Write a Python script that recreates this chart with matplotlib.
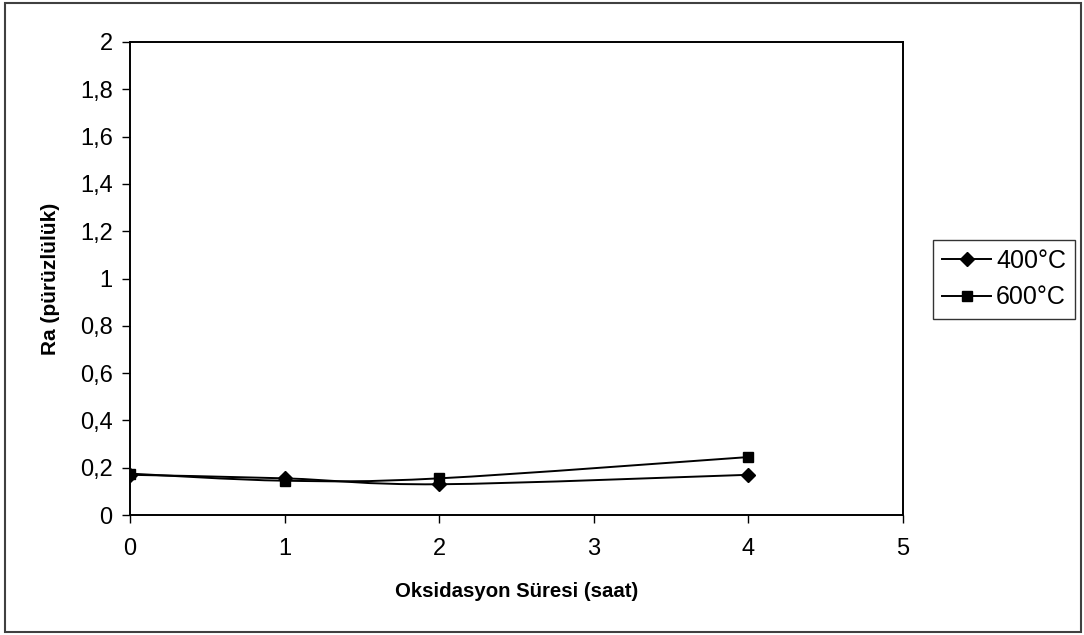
import matplotlib
matplotlib.use("Agg")
import matplotlib.pyplot as plt
from matplotlib.path import Path
from matplotlib.patches import PathPatch, Rectangle
from matplotlib.lines import Line2D
from matplotlib.ticker import FuncFormatter

plt.rcParams['font.family'] = ['Liberation Sans', 'DejaVu Sans']

hours = [0, 1, 2, 4]
ra_400 = [0.17, 0.155, 0.13, 0.17]
ra_600 = [0.175, 0.145, 0.155, 0.245]
series_labels = ['400°C', '600°C']
x_ticks = [0, 1, 2, 3, 4, 5]
y_ticks = [0, 0.2, 0.4, 0.6, 0.8, 1, 1.2, 1.4, 1.6, 1.8, 2]


def smooth_path(xs, ys):
    """Bezier path through the points, spreadsheet-style smoothed line."""
    pts = list(zip(xs, ys))
    n = len(pts)
    verts = [pts[0]]
    codes = [Path.MOVETO]
    for i in range(n - 1):
        p0 = pts[i - 1] if i > 0 else pts[i]
        p1 = pts[i]
        p2 = pts[i + 1]
        p3 = pts[i + 2] if i + 2 < n else pts[i + 1]
        c1 = (p1[0] + (p2[0] - p0[0]) / 6, p1[1] + (p2[1] - p0[1]) / 6)
        c2 = (p2[0] - (p3[0] - p1[0]) / 6, p2[1] - (p3[1] - p1[1]) / 6)
        verts += [c1, c2, p2]
        codes += [Path.CURVE4] * 3
    return Path(verts, codes)


fig = plt.figure(figsize=(10.84, 6.35), dpi=100)
ax = fig.add_axes([130 / 1084, 1 - 515 / 635, (903 - 130) / 1084, (515 - 42) / 635])

# outer chart border
fig.patches.append(Rectangle((5 / 1084, 3 / 635), 1076 / 1084, 629 / 635,
                             transform=fig.transFigure, fill=False,
                             edgecolor='#404040', linewidth=1.5))

for xs, ys, marker in [(hours, ra_400, 'D'), (hours, ra_600, 's')]:
    ax.add_patch(PathPatch(smooth_path(xs, ys), facecolor='none',
                           edgecolor='black', linewidth=1.4))
    ax.plot(xs, ys, linestyle='none', marker=marker, markersize=7.5,
            color='black')

ax.set_xlim(0, 5)
ax.set_ylim(0, 2)
ax.set_xticks(x_ticks)
ax.set_yticks(y_ticks)
ax.yaxis.set_major_formatter(FuncFormatter(lambda v, p: ('%g' % v).replace('.', ',')))
ax.tick_params(axis='both', direction='out', length=5.5, width=1,
               labelsize=17, colors='black')
ax.tick_params(axis='x', pad=11)
ax.tick_params(axis='y', pad=7)
for s in ax.spines.values():
    s.set_linewidth(1.4)
    s.set_color('black')

ax.set_xlabel('Oksidasyon Süresi (saat)', fontsize=14.7, fontweight='bold',
              labelpad=16)
ax.set_ylabel('Ra (pürüzlülük)', fontsize=15, fontweight='bold',
              labelpad=14.5)

handles = [Line2D([], [], color='black', marker='D', markersize=7.5, linewidth=1.4),
           Line2D([], [], color='black', marker='s', markersize=7.5, linewidth=1.4)]
leg = fig.legend(handles, series_labels, loc='upper left',
                 bbox_to_anchor=(933 / 1084, 1 - 240 / 635),
                 fontsize=18, frameon=True, fancybox=False,
                 edgecolor='black', handlelength=1.96, handletextpad=0.2,
                 borderpad=0.36, labelspacing=0.5, borderaxespad=0)
leg.get_frame().set_linewidth(1.0)

fig.savefig('out.png', dpi=100)
